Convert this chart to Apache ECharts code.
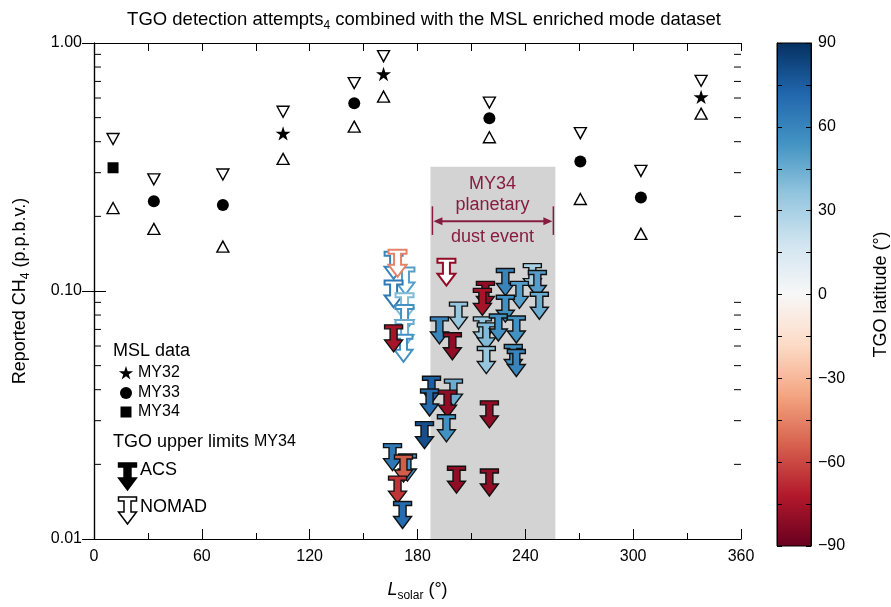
<!DOCTYPE html>
<html><head><meta charset="utf-8">
<script src="https://cdn.jsdelivr.net/npm/echarts@6/dist/echarts.min.js"></script>
<style>html,body{margin:0;padding:0;background:#fff}#c{width:891px;height:607px}</style>
</head><body><div id="c"></div>
<script>
const FONT = "'Liberation Sans', Arial, Helvetica, sans-serif";

// ---- MSL data (Ls in degrees, CH4 in p.p.b.v.) ----
const my32Ls  = [105.2, 161.1, 337.8];
const my32Val = [0.432, 0.750, 0.606];
const my32Up  = [0.528, 0.885, 0.704];
const my32Lo  = [0.341, 0.608, 0.519];

const my33Ls  = [33.3, 71.7, 144.8, 220.0, 270.6, 304.3];
const my33Val = [0.230, 0.222, 0.571, 0.497, 0.333, 0.238];
const my33Up  = [0.282, 0.295, 0.689, 0.575, 0.433, 0.305];
const my33Lo  = [0.178, 0.151, 0.460, 0.417, 0.235, 0.170];

const my34Ls  = [10.6];
const my34Val = [0.314];
const my34Up  = [0.410];
const my34Lo  = [0.216];

// ---- TGO upper limits MY34 ----
const nomadLs  = [166.7, 173.3, 166.7, 172.8, 172.8, 172.8, 172.2, 168.9, 196.1];
const nomadVal = [0.1413, 0.1221, 0.1083, 0.0961, 0.0861, 0.0750, 0.0654, 0.1439, 0.1325];
const nomadLat = [60, 50, 65, 40, 55, 45, 55, -45, -80];

const acsLs  = [166.7, 202.8, 192.2, 199.4, 217.8, 216.1, 228.9, 243.9, 246.7, 236.7, 247.8, 228.9,
                216.1, 218.3, 218.3, 225.0, 235.0, 233.3, 235.0, 187.8, 200.0, 186.7, 196.7, 196.1,
                183.9, 220.0, 166.1, 174.4, 172.2, 168.9, 171.7, 201.7, 220.0];
const acsVal = [0.0717, 0.0885, 0.0772, 0.0666, 0.1073, 0.1006, 0.1209, 0.1266, 0.1187, 0.1073, 0.0970, 0.0944,
                0.0772, 0.0730, 0.0586, 0.0793, 0.0778, 0.0597, 0.0570, 0.0445, 0.0433, 0.0395, 0.0391, 0.0311,
                0.0292, 0.0354, 0.0238, 0.0216, 0.0214, 0.0176, 0.0139, 0.0193, 0.0188];
const acsLat = [-75, 35, 60, -80, -80, -75, 60, 30, 50, 50, 45, 55,
                35, 40, 35, 55, 55, 55, 60, 75, 45, 70, -80, 55,
                80, -80, 65, 55, -55, -65, 70, -80, -80];

// ---- dust event annotation ----
const dustStart = 187.2, dustEnd = 256.7, dustTop = 0.317, dustBottom = 0.01;
const dustArrowLs = [188.3, 255.6];
const dustArrowVal = 0.191, dustBarTop = 0.2195, dustBarBottom = 0.1683;
const dustLabels = ['MY34', 'planetary', 'dust event'];
const dustLabelVal = [0.271, 0.2215, 0.165];
const dustLabelLs = 221.7;

// ---- axes ticks ----
const xTicks = { min: 0, max: 360, interval: 60 };
const yLogMinorTicks = [0.02,0.03,0.04,0.05,0.06,0.07,0.08,0.09,0.2,0.3,0.4,0.5,0.6,0.7,0.8,0.9];
const latRange = { min: -90, max: 90, interval: 15, labelStep: 30 };

const RdBu = ['#67001f','#b2182b','#d6604d','#f4a582','#fddbc7','#f7f7f7','#d1e5f0','#92c5de','#4393c3','#2166ac','#053061'];
const MAROON = '#861c3f';

function arrowPts(x, y) {
  return [[x-9,y-2],[x+9,y-2],[x+9,y+2],[x+3.5,y+2],[x+3.5,y+13],[x+9,y+13],[x,y+25],
          [x-9,y+13],[x-3.5,y+13],[x-3.5,y+2],[x-9,y+2]];
}
function starPts(cx, cy, r) {
  const pts = [];
  for (let i = 0; i < 10; i++) {
    const a = -Math.PI/2 + i*Math.PI/5;
    const rr = i % 2 === 0 ? r : r*0.382;
    pts.push([cx + rr*Math.cos(a), cy + rr*Math.sin(a)]);
  }
  return pts;
}
const starPath = 'path://M0,-1L0.2245,-0.309L0.951,-0.309L0.363,0.118L0.588,0.809L0,0.382L-0.588,0.809L-0.363,0.118L-0.951,-0.309L-0.2245,-0.309Z';

const subRich = { s: { fontSize: 12, lineHeight: 12, verticalAlign: 'bottom', fontFamily: FONT, color: '#000' },
                  i: { fontSize: 18, lineHeight: 24, fontStyle: 'italic', fontFamily: FONT, color: '#000' } };

const zip = (a, b) => a.map((v, i) => [v, b[i]]);
const upAll = [...zip(my32Ls, my32Up), ...zip(my33Ls, my33Up), ...zip(my34Ls, my34Up)];
const loAll = [...zip(my32Ls, my32Lo), ...zip(my33Ls, my33Lo), ...zip(my34Ls, my34Lo)];

const chart = echarts.init(document.getElementById('c'));

const axisLineStyle = { lineStyle: { color: '#000', width: 1.2 } };
const tickStyle = { color: '#000', width: 1 };

const option = {
  animation: false,
  backgroundColor: '#fff',
  grid: [
    { left: 93, right: 150, top: 43, bottom: 62 },
    { left: 777, width: 35, top: 43, height: 503 }
  ],
  xAxis: [
    { type: 'value', gridIndex: 0, min: xTicks.min, max: xTicks.max, interval: xTicks.interval, position: 'bottom', z: 5,
      axisLine: axisLineStyle, axisTick: { inside: true, length: 10, lineStyle: tickStyle },
      minorTick: { show: true, splitNumber: 2, length: 6, lineStyle: tickStyle },
      splitLine: { show: false },
      axisLabel: { fontSize: 16, color: '#000', margin: 10, fontFamily: FONT },
      name: '{i|L}{s|solar} (°)', nameLocation: 'middle', nameGap: 39,
      nameTextStyle: { fontSize: 18, lineHeight: 24, color: '#000', fontFamily: FONT, rich: subRich } },
    { type: 'value', gridIndex: 0, min: xTicks.min, max: xTicks.max, interval: xTicks.interval, position: 'top', z: 5,
      axisLine: axisLineStyle, axisTick: { inside: true, length: 8, lineStyle: tickStyle },
      minorTick: { show: true, splitNumber: 2, length: 8, lineStyle: tickStyle },
      splitLine: { show: false }, axisLabel: { show: false } },
    { type: 'value', gridIndex: 1, min: 0, max: 1, show: false }
  ],
  yAxis: [
    { type: 'log', logBase: 10, gridIndex: 0, min: 0.01, max: 1, position: 'left', z: 5,
      axisLine: axisLineStyle, axisTick: { inside: true, length: 12, lineStyle: tickStyle },
      minorTick: { show: false }, splitLine: { show: false },
      axisLabel: { fontSize: 16, color: '#000', margin: 12, fontFamily: FONT, formatter: v => Number(v).toFixed(2) },
      name: 'Reported CH{s|4} (p.p.b.v.)', nameLocation: 'middle', nameGap: 62, nameRotate: 90,
      nameTextStyle: { fontSize: 18, lineHeight: 24, color: '#000', fontFamily: FONT, rich: subRich } },
    { type: 'log', logBase: 10, gridIndex: 0, min: 0.01, max: 1, position: 'right', z: 5,
      axisLine: axisLineStyle, axisTick: { inside: true, length: 12, lineStyle: tickStyle },
      minorTick: { show: false }, splitLine: { show: false }, axisLabel: { show: false } },
    { type: 'value', gridIndex: 1, min: latRange.min, max: latRange.max, interval: latRange.interval, position: 'left', z: 5,
      axisLine: { lineStyle: { color: '#000', width: 1 } }, axisTick: { inside: true, length: 5, lineStyle: tickStyle },
      splitLine: { show: false }, axisLabel: { show: false } },
    { type: 'value', gridIndex: 1, min: latRange.min, max: latRange.max, interval: latRange.interval, position: 'right', z: 5,
      axisLine: { lineStyle: { color: '#000', width: 1 } }, axisTick: { inside: true, length: 5, lineStyle: tickStyle },
      splitLine: { show: false },
      axisLabel: { fontSize: 16, color: '#000', margin: 7, fontFamily: FONT,
        formatter: v => (v % latRange.labelStep !== 0) ? '' : (v < 0 ? '\u2212' + (-v) : String(v)) },
      name: 'TGO latitude (°)', nameLocation: 'middle', nameRotate: 90, nameGap: 61,
      nameTextStyle: { fontSize: 18, color: '#000', fontFamily: FONT } }
  ],
  visualMap: {
    type: 'continuous', show: false, min: latRange.min, max: latRange.max, dimension: 2,
    seriesIndex: [6, 7], inRange: { color: RdBu }
  },
  series: [
    { // 0 dust shading
      type: 'custom', xAxisIndex: 0, yAxisIndex: 0, z: 1, silent: true, clip: false,
      data: [[dustStart, dustTop]],
      renderItem: (params, api) => {
        const a = api.coord([dustStart, dustTop]);
        const b = api.coord([dustEnd, dustBottom]);
        return { type: 'rect', shape: { x: a[0], y: a[1], width: b[0]-a[0], height: b[1]-a[1] },
                 style: { fill: '#d3d3d3' } };
      }
    },
    { // 1 dust annotation
      type: 'custom', xAxisIndex: 0, yAxisIndex: 0, z: 3, silent: true, clip: false,
      data: [[dustLabelLs, dustArrowVal]],
      renderItem: (params, api) => {
        const l = api.coord([dustArrowLs[0], dustArrowVal]);
        const r = api.coord([dustArrowLs[1], dustArrowVal]);
        const bt = api.coord([dustArrowLs[0], dustBarTop])[1];
        const bb = api.coord([dustArrowLs[0], dustBarBottom])[1];
        const y = l[1];
        const ch = [
          { type: 'line', shape: { x1: l[0]+4, y1: y, x2: r[0]-4, y2: y }, style: { stroke: MAROON, lineWidth: 2 } },
          { type: 'polygon', shape: { points: [[l[0]+1, y], [l[0]+10, y-4], [l[0]+10, y+4]] }, style: { fill: MAROON } },
          { type: 'polygon', shape: { points: [[r[0]-1, y], [r[0]-10, y-4], [r[0]-10, y+4]] }, style: { fill: MAROON } },
          { type: 'line', shape: { x1: l[0], y1: bt, x2: l[0], y2: bb }, style: { stroke: MAROON, lineWidth: 1.5 } },
          { type: 'line', shape: { x1: r[0], y1: bt, x2: r[0], y2: bb }, style: { stroke: MAROON, lineWidth: 1.5 } }
        ];
        dustLabels.forEach((t, i) => {
          const p = api.coord([dustLabelLs, dustLabelVal[i]]);
          ch.push({ type: 'text', x: p[0], y: p[1],
            style: { text: t, fill: MAROON, fontSize: 18, fontFamily: FONT, align: 'center', verticalAlign: 'middle' } });
        });
        return { type: 'group', children: ch };
      }
    },
    { // 2 upper triangles
      type: 'scatter', xAxisIndex: 0, yAxisIndex: 0, data: upAll, symbol: 'triangle', symbolRotate: 180, symbolSize: [12, 11],
      itemStyle: { color: '#fff', borderColor: '#000', borderWidth: 1.4, opacity: 1 }, z: 3
    },
    { // 3 lower triangles
      type: 'scatter', xAxisIndex: 0, yAxisIndex: 0, data: loAll, symbol: 'triangle', symbolSize: [12, 11],
      itemStyle: { color: '#fff', borderColor: '#000', borderWidth: 1.4, opacity: 1 }, z: 3
    },
    { // 4 MY32 stars
      type: 'scatter', xAxisIndex: 0, yAxisIndex: 0, data: zip(my32Ls, my32Val), symbol: starPath, symbolSize: [15, 14.3],
      itemStyle: { color: '#000', opacity: 1 }, z: 3
    },
    { // 5 MY33 circles
      type: 'scatter', xAxisIndex: 0, yAxisIndex: 0, data: zip(my33Ls, my33Val), symbol: 'circle', symbolSize: 12,
      itemStyle: { color: '#000', opacity: 1 }, z: 3
    },
    { // 6 NOMAD
      type: 'custom', xAxisIndex: 0, yAxisIndex: 0, clip: false, z: 3,
      dimensions: ['ls', 'ch4', 'lat'], encode: { x: 0, y: 1 },
      data: nomadLs.map((l, i) => [l, nomadVal[i], nomadLat[i]]),
      renderItem: (params, api) => {
        const p = api.coord([api.value(0), api.value(1)]);
        return { type: 'polygon', shape: { points: arrowPts(p[0], p[1]) },
                 style: { fill: '#fff', stroke: api.visual('color'), lineWidth: 2 } };
      }
    },
    { // 7 ACS
      type: 'custom', xAxisIndex: 0, yAxisIndex: 0, clip: false, z: 3,
      dimensions: ['ls', 'ch4', 'lat'], encode: { x: 0, y: 1 },
      data: acsLs.map((l, i) => [l, acsVal[i], acsLat[i]]),
      renderItem: (params, api) => {
        const p = api.coord([api.value(0), api.value(1)]);
        return { type: 'polygon', shape: { points: arrowPts(p[0], p[1]) },
                 style: { fill: api.visual('color'), stroke: '#111', lineWidth: 1.4 } };
      }
    },
    { // 8 MY34 square
      type: 'scatter', xAxisIndex: 0, yAxisIndex: 0, data: zip(my34Ls, my34Val), symbol: 'rect', symbolSize: 11,
      itemStyle: { color: '#000', opacity: 1 }, z: 3
    },
    { // 9 log minor ticks
      type: 'custom', xAxisIndex: 0, yAxisIndex: 0, z: 6, silent: true, clip: false,
      data: yLogMinorTicks.map(v => [0, v]),
      renderItem: (params, api) => {
        const cs = params.coordSys;
        const y = api.coord([0, api.value(1)])[1];
        return { type: 'group', children: [
          { type: 'line', shape: { x1: cs.x, y1: y, x2: cs.x + 7, y2: y }, style: { stroke: '#000', lineWidth: 1 } },
          { type: 'line', shape: { x1: cs.x + cs.width - 7, y1: y, x2: cs.x + cs.width, y2: y }, style: { stroke: '#000', lineWidth: 1 } }
        ] };
      }
    },
    { // 10 colour bar
      type: 'custom', xAxisIndex: 2, yAxisIndex: 2, z: 1, silent: true, clip: false,
      data: [[0, latRange.min]],
      renderItem: (params, api) => {
        const cs = params.coordSys;
        const stops = RdBu.slice().reverse().map((c, i, arr) => ({ offset: i / (arr.length - 1), color: c }));
        return { type: 'rect', shape: { x: cs.x, y: cs.y, width: cs.width, height: cs.height },
                 style: { fill: new echarts.graphic.LinearGradient(0, 0, 0, 1, stops), stroke: '#000', lineWidth: 1 } };
      }
    }
  ],
  graphic: [
    { type: 'text', x: 424, y: 20, style: { text: 'TGO detection attempts{s|4} combined with the MSL enriched mode dataset',
        fontSize: 18.5, fontFamily: FONT, fill: '#000', align: 'center', verticalAlign: 'middle', lineHeight: 24, rich: subRich } },
    { type: 'text', x: 113, y: 351, style: { text: 'MSL data', fontSize: 18, fontFamily: FONT, fill: '#000', verticalAlign: 'middle' } },
    { type: 'polygon', shape: { points: starPts(126, 373.5, 7.5) }, style: { fill: '#000' } },
    { type: 'text', x: 138, y: 373, style: { text: 'MY32', fontSize: 16, fontFamily: FONT, fill: '#000', verticalAlign: 'middle' } },
    { type: 'circle', shape: { cx: 126, cy: 393, r: 6 }, style: { fill: '#000' } },
    { type: 'text', x: 138, y: 393, style: { text: 'MY33', fontSize: 16, fontFamily: FONT, fill: '#000', verticalAlign: 'middle' } },
    { type: 'rect', shape: { x: 120.5, y: 406.5, width: 11, height: 11 }, style: { fill: '#000' } },
    { type: 'text', x: 138, y: 412, style: { text: 'MY34', fontSize: 16, fontFamily: FONT, fill: '#000', verticalAlign: 'middle' } },
    { type: 'text', x: 113, y: 442, style: { text: 'TGO upper limits {m|MY34}', fontSize: 18, fontFamily: FONT, fill: '#000', verticalAlign: 'middle',
        rich: { m: { fontSize: 16, fontFamily: FONT, fill: '#000' } } } },
    { type: 'polygon', shape: { points: arrowPts(127.5, 465) }, style: { fill: '#000', stroke: '#000', lineWidth: 1.4 } },
    { type: 'text', x: 140, y: 470, style: { text: 'ACS', fontSize: 18, fontFamily: FONT, fill: '#000', verticalAlign: 'middle' } },
    { type: 'polygon', shape: { points: arrowPts(127.5, 499) }, style: { fill: '#fff', stroke: '#000', lineWidth: 1.5 } },
    { type: 'text', x: 140, y: 507, style: { text: 'NOMAD', fontSize: 18, fontFamily: FONT, fill: '#000', verticalAlign: 'middle' } }
  ]
};
chart.setOption(option);
</script>
</body></html>
